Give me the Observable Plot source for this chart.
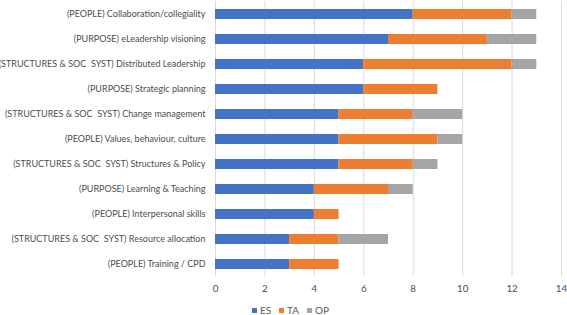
<!DOCTYPE html>
<html>
<head>
<meta charset="utf-8">
<script src="https://cdn.jsdelivr.net/npm/d3@7"></script>
<script src="https://cdn.jsdelivr.net/npm/@observablehq/plot@0.6"></script>
<style>
  body { margin: 0; background: #fff; font-family: Lato, "Open Sans", sans-serif; }
  #chart { width: 567px; }
  svg text { white-space: pre; }
  .legend { display: flex; justify-content: center; gap: 8px; font-size: 10px; color: #595959; margin-left: 14px; margin-top: 3px; height: 14px; align-items: center; }
  .legend .item { display: flex; align-items: center; }
  .legend span.sw { display: inline-block; width: 5px; height: 5px; margin-right: 3px; }
</style>
</head>
<body>
<div id="chart"></div>
<script>
const categories = [
  "(PEOPLE) Collaboration/collegiality",
  "(PURPOSE) eLeadership visioning",
  "(STRUCTURES & SOC  SYST) Distributed Leadership",
  "(PURPOSE) Strategic planning",
  "(STRUCTURES & SOC  SYST) Change management",
  "(PEOPLE) Values, behaviour, culture",
  "(STRUCTURES & SOC  SYST) Structures & Policy",
  "(PURPOSE) Learning & Teaching",
  "(PEOPLE) Interpersonal skills",
  "(STRUCTURES & SOC  SYST) Resource allocation",
  "(PEOPLE) Training / CPD"
];
const seriesNames = ["ES", "TA", "OP"];
const seriesColors = ["#4472C4", "#ED7D31", "#A5A5A5"];
const ES = [8, 7, 6, 6, 5, 5, 5, 4, 4, 3, 3];
const TA = [4, 4, 6, 3, 3, 4, 3, 3, 1, 2, 2];
const OP = [1, 2, 1, 0, 2, 1, 1, 1, 0, 2, 0];
const xTicks = [0, 2, 4, 6, 8, 10, 12, 14];

const seriesValues = [ES, TA, OP];
const data = [];
categories.forEach((c, i) => {
  seriesNames.forEach((s, j) => {
    data.push({category: c, series: s, value: seriesValues[j][i]});
  });
});

const plot = Plot.plot({
  width: 567,
  height: 300,
  marginLeft: 215,
  marginRight: 6,
  marginTop: 1,
  marginBottom: 24,
  style: {fontFamily: "Lato, 'Open Sans', sans-serif", fontSize: "9px", color: "#4d4d4d", background: "#fff"},
  x: {domain: [0, 14], ticks: xTicks, label: null, tickSize: 0, tickPadding: 9, grid: false},
  y: {domain: categories, label: null, tickSize: 0, tickPadding: 10, paddingInner: 0.62, paddingOuter: 0.31},
  color: {domain: seriesNames, range: seriesColors},
  marks: [
    Plot.ruleX(xTicks, {stroke: "#D9D9D9", strokeWidth: 1}),
    Plot.barX(data, {y: "category", x: "value", fill: "series"}),
    Plot.axisY({tickSize: 0, tickPadding: 10, label: null, fontSize: 9}),
    Plot.axisX({ticks: xTicks, tickSize: 0, tickPadding: 9, label: null, fontSize: 9.8})
  ]
});
const chart = document.getElementById("chart");
chart.appendChild(plot);

const legend = document.createElement("div");
legend.className = "legend";
seriesNames.forEach((s, i) => {
  const item = document.createElement("div");
  item.className = "item";
  const sw = document.createElement("span");
  sw.className = "sw";
  sw.style.background = seriesColors[i];
  item.appendChild(sw);
  item.appendChild(document.createTextNode(s));
  legend.appendChild(item);
});
chart.appendChild(legend);
</script>
</body>
</html>
